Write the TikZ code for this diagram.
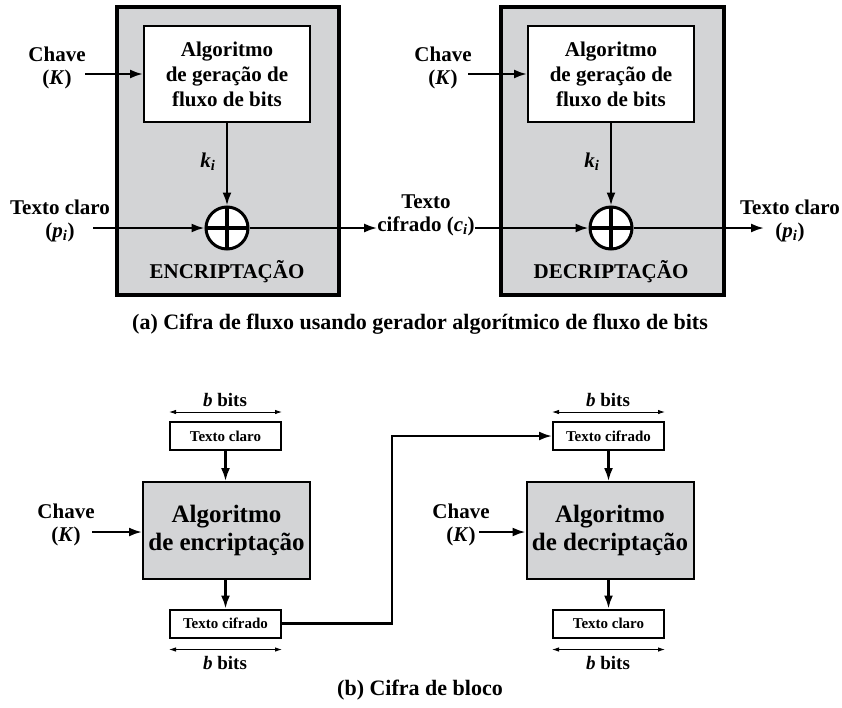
\documentclass[tikz,border=0pt]{standalone}
\usepackage{fontspec}
\setmainfont{Liberation Serif}
\usetikzlibrary{arrows.meta}

\definecolor{panel}{RGB}{211,212,214}

\tikzset{
  lbl/.style={font=\fontsize{21}{23}\selectfont\bfseries, align=center, inner sep=0pt},
  captext/.style={font=\fontsize{22}{24}\selectfont\bfseries, inner sep=0pt},
  arr/.style={line width=2.2pt, -{Latex[length=13pt,width=9pt]}},
  dimarrow/.style={line width=0.9pt, {Latex[length=7pt,width=4.5pt]}-{Latex[length=7pt,width=4.5pt]}},
  outerbox/.style={draw, fill=panel, line width=3.5pt, inner sep=0pt},
  genbox/.style={draw, fill=white, line width=2pt, minimum width=166pt, minimum height=96pt,
    align=center, font=\fontsize{21}{25}\selectfont\bfseries, inner sep=0pt},
  xor/.style={circle, draw, fill=white, line width=3pt, minimum size=42pt, inner sep=0pt,
    path picture={\draw[line width=4pt]
      (path picture bounding box.north) -- (path picture bounding box.south)
      (path picture bounding box.west) -- (path picture bounding box.east);}},
  txtbox/.style={draw, fill=white, line width=2pt, minimum width=111pt, minimum height=28pt,
    inner sep=0pt, font=\fontsize{15}{17}\selectfont\bfseries},
  algbox/.style={draw, fill=panel, line width=2pt, minimum width=167pt, minimum height=97pt,
    align=center, inner sep=0pt, font=\fontsize{25}{28}\selectfont\bfseries},
  bits/.style={font=\fontsize{19}{21}\selectfont\bfseries, inner sep=0pt}
}

\begin{document}
\begin{tikzpicture}[x=1pt, y=-1pt]
\useasboundingbox (0,0) rectangle (842,707);

% ---------- (a) stream cipher ----------
\node[outerbox, minimum width=222pt, minimum height=288pt] (encbox) at (228,151) {};
\node[outerbox, minimum width=223pt, minimum height=288pt] (decbox) at (612.5,151) {};

\node[genbox] (gen1) at (227,74) {Algoritmo\\de geração de\\fluxo de bits};
\node[genbox] (gen2) at (611,74) {Algoritmo\\de geração de\\fluxo de bits};

\node[xor] (x1) at (227,228) {};
\node[xor] (x2) at (611,228) {};

\node[lbl] (k1) at (208,162) {\textit{k\textsubscript{i}}};
\node[lbl] (k2) at (592,162) {\textit{k\textsubscript{i}}};

\node[lbl] (enc) at (227,272) {ENCRIPTAÇÃO};
\node[lbl] (dec) at (611,272) {DECRIPTAÇÃO};

\node[lbl] (key1) at (57,68) {Chave\\(\textit{K})};
\node[lbl] (key2) at (443,68) {Chave\\(\textit{K})};
\coordinate (key1out) at (85,74);
\coordinate (key2out) at (468,74);

\node[lbl] (pin) at (60,221) {Texto claro\\(\textit{p\textsubscript{i}})};
\coordinate (pinout) at (93,228);
\node[lbl] (cmid) at (426,215) {Texto\\cifrado (\textit{c\textsubscript{i}})};
\node[lbl] (pout) at (790,221) {Texto claro\\(\textit{p\textsubscript{i}})};
\coordinate (poutin) at (764,228);

\draw[arr] (key1out) -- (gen1.west);
\draw[arr] (key2out) -- (gen2.west);
\draw[arr] (gen1.south) -- (x1.north);
\draw[arr] (gen2.south) -- (x2.north);
\draw[arr] (pinout) -- (x1.west);
\draw[arr] (x1.east) -- (cmid.west |- x1.east);
\draw[arr] (cmid.east |- x2.west) -- (x2.west);
\draw[arr] (x2.east) -- (poutin);

\node[captext] (capa) at (420,324) {(a) Cifra de fluxo usando gerador algorítmico de fluxo de bits};

% ---------- (b) block cipher ----------
\node[txtbox] (pt1) at (225.5,436) {Texto claro};
\node[algbox] (alg1) at (226.5,530.5) {Algoritmo\\de encriptação};
\node[txtbox] (ct1) at (225.5,623.5) {Texto cifrado};

\node[txtbox] (ct2) at (608.5,436) {Texto cifrado};
\node[algbox] (alg2) at (610,530.5) {Algoritmo\\de decriptação};
\node[txtbox] (pt2) at (608.5,623.5) {Texto claro};

\node[bits] (b1) at (225,400) {\textit{b} bits};
\node[bits] (b2) at (225,663) {\textit{b} bits};
\node[bits] (b3) at (608,400) {\textit{b} bits};
\node[bits] (b4) at (608,663) {\textit{b} bits};

\draw[dimarrow] ([yshift=9pt]pt1.north west) -- ([yshift=9pt]pt1.north east);
\draw[dimarrow] ([yshift=-11pt]ct1.south west) -- ([yshift=-11pt]ct1.south east);
\draw[dimarrow] ([yshift=9pt]ct2.north west) -- ([yshift=9pt]ct2.north east);
\draw[dimarrow] ([yshift=-11pt]pt2.south west) -- ([yshift=-11pt]pt2.south east);

\node[lbl] (key3) at (66,525) {Chave\\(\textit{K})};
\node[lbl] (key4) at (461,525) {Chave\\(\textit{K})};
\coordinate (key3out) at (92,532);
\coordinate (key4out) at (479,532);

\draw[arr] (key3out) -- (alg1.west |- key3out);
\draw[arr] (key4out) -- (alg2.west |- key4out);
\draw[arr] (pt1.south) -- (pt1.south |- alg1.north);
\draw[arr] (alg1.south -| ct1.north) -- (ct1.north);
\draw[arr] (ct2.south) -- (ct2.south |- alg2.north);
\draw[arr] (alg2.south -| pt2.north) -- (pt2.north);
\coordinate (bend) at (392,530);
\draw[arr] (ct1.east) -| (bend) |- (ct2.west);

\node[captext] (capb) at (420,690) {(b) Cifra de bloco};
\end{tikzpicture}
\end{document}
